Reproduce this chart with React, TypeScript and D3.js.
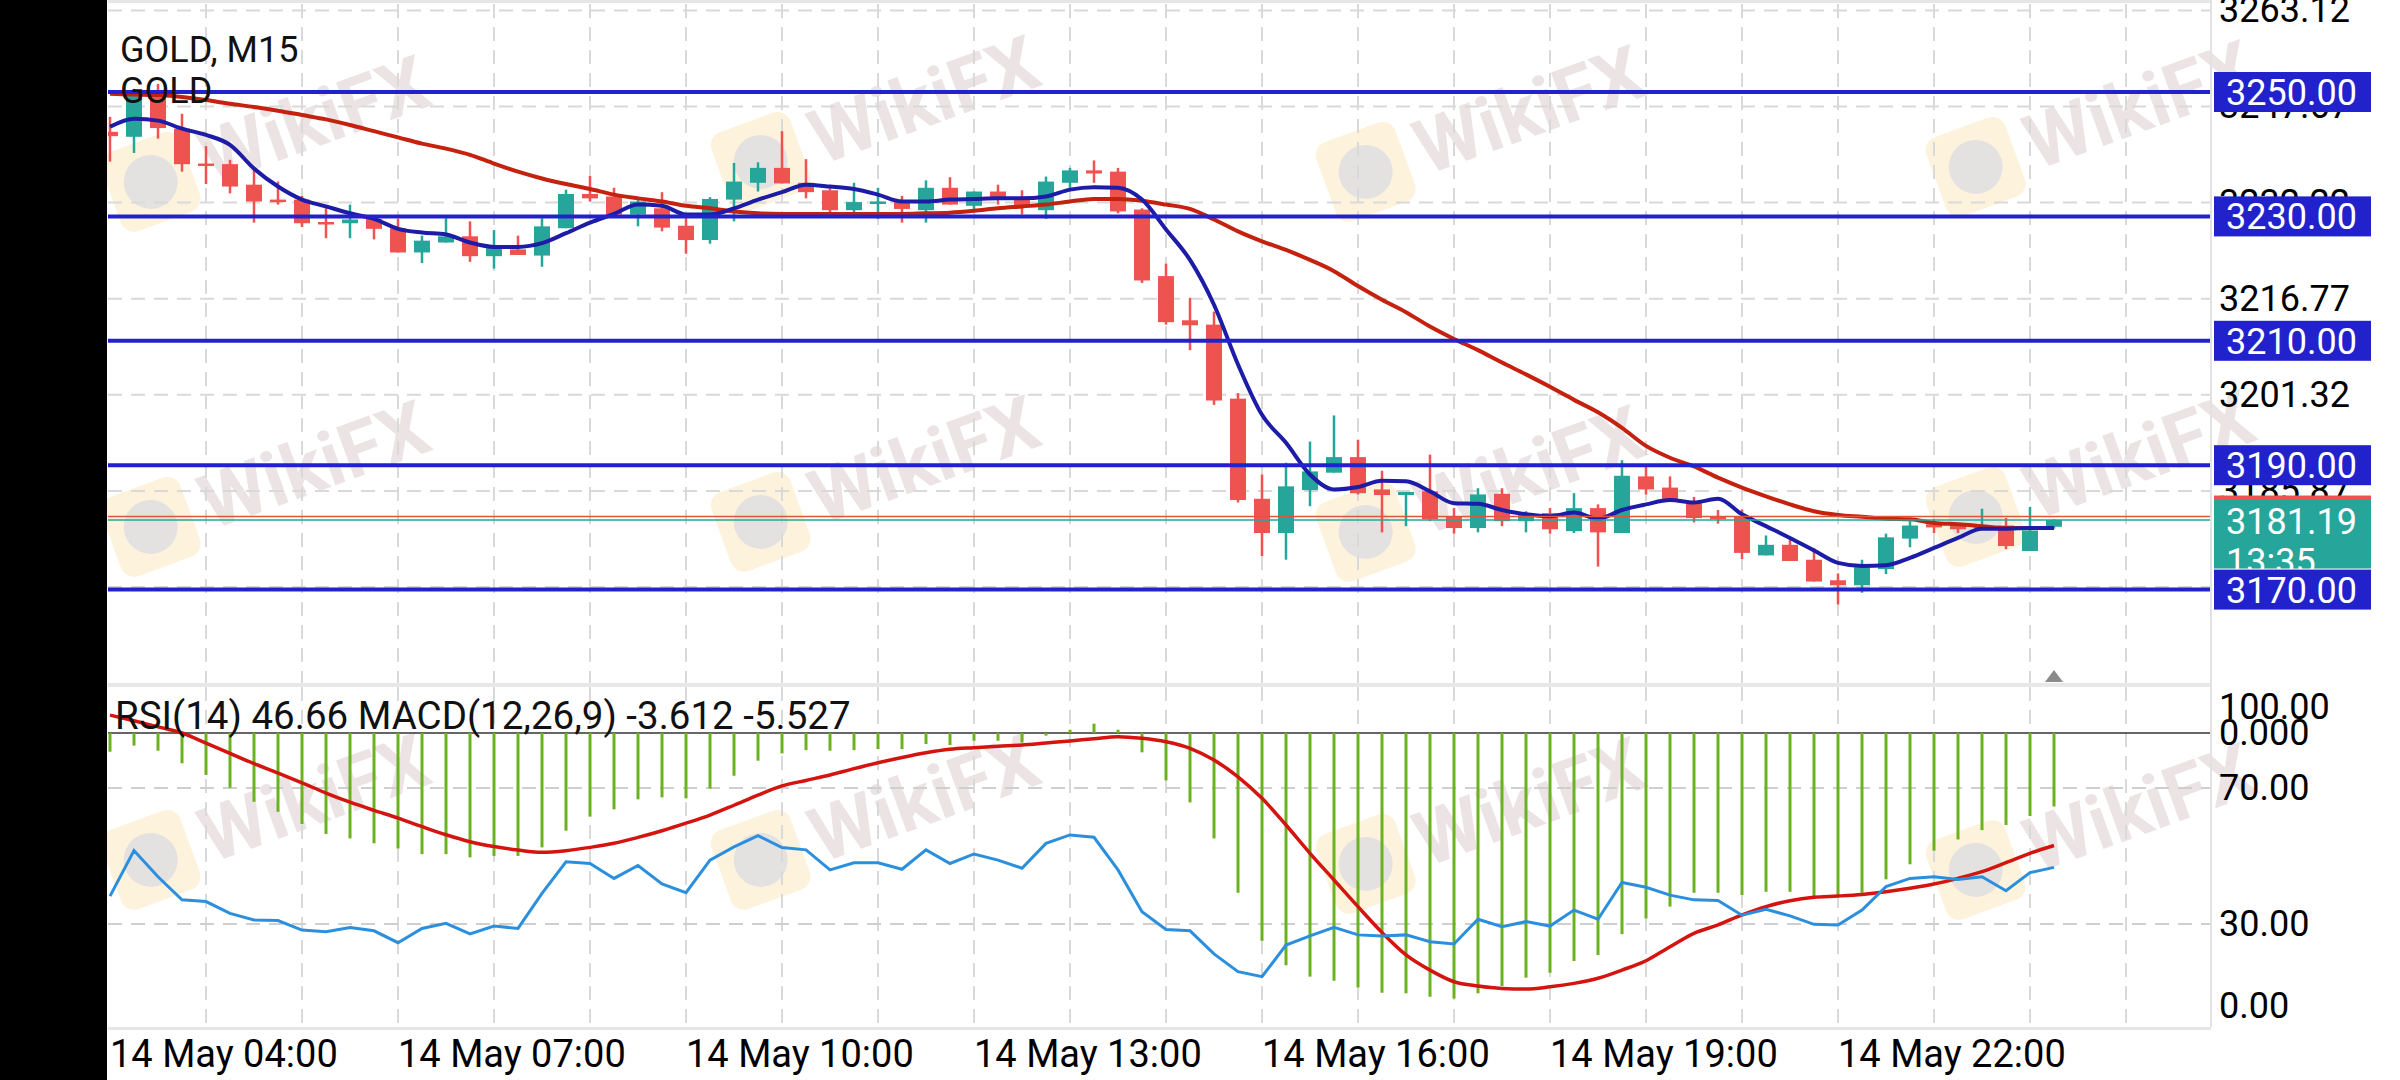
import React from 'react';
import * as d3 from 'd3';

// ---------- DATA ----------
const opens = [3243.6,3242.8,3249.5,3244.1,3238.5,3238.4,3235.1,3232.7,3232.7,3229.1,3228.9,3229.6,3228.1,3224.2,3225.8,3226.8,3223.6,3224.7,3223.7,3228.1,3233.6,3233.2,3230.3,3231.3,3228.5,3226.2,3232.7,3235.4,3237.8,3235.4,3234.2,3231.0,3232.1,3232.3,3231.0,3234.6,3231.7,3234.0,3232.8,3231.0,3235.4,3237.4,3237.2,3231.1,3220.4,3213.3,3212.6,3200.7,3184.6,3179.1,3186.0,3188.8,3191.3,3186.1,3185.2,3185.8,3181.8,3179.9,3185.4,3181.0,3182.3,3179.4,3183.1,3179.1,3188.2,3186.4,3183.9,3181.8,3181.8,3175.5,3177.2,3174.8,3171.5,3170.7,3173.3,3178.2,3180.5,3180.5,3179.8,3180.3,3176.2,3180.1];
const highs = [3246.0,3250.5,3251.3,3246.5,3241.3,3239.1,3237.7,3235.6,3233.3,3231.6,3231.9,3230.0,3229.6,3226.9,3229.7,3229.2,3227.8,3226.9,3229.7,3234.3,3236.5,3234.6,3232.9,3233.9,3230.3,3233.1,3238.6,3238.7,3243.7,3239.2,3234.6,3235.4,3234.6,3233.3,3235.8,3236.3,3234.0,3235.1,3234.2,3236.4,3237.8,3239.0,3237.8,3231.3,3222.4,3216.9,3214.7,3201.6,3188.5,3190.4,3193.8,3198.0,3194.1,3189.1,3185.7,3191.7,3183.1,3186.3,3186.3,3182.6,3183.1,3185.5,3183.7,3190.8,3189.8,3188.2,3184.9,3182.8,3182.9,3178.7,3178.3,3176.7,3172.6,3174.8,3179.0,3181.0,3181.3,3180.7,3183.0,3181.5,3183.3,3181.3];
const lows = [3238.8,3240.2,3242.5,3237.2,3235.2,3233.7,3229.0,3231.9,3228.3,3226.5,3226.5,3226.3,3224.2,3222.5,3225.8,3222.7,3221.6,3223.8,3221.9,3228.1,3232.4,3230.0,3228.4,3227.6,3224.0,3225.6,3229.2,3234.0,3235.3,3232.9,3230.3,3230.5,3229.6,3229.0,3229.0,3231.9,3230.8,3231.9,3230.3,3229.6,3234.6,3235.4,3230.5,3219.3,3212.6,3208.5,3199.7,3184.0,3175.4,3174.8,3183.4,3188.8,3185.3,3179.2,3180.2,3181.0,3179.0,3179.2,3180.2,3179.2,3179.0,3179.1,3173.7,3179.1,3185.3,3184.5,3180.8,3180.6,3174.9,3175.5,3174.6,3171.3,3167.6,3169.5,3172.5,3176.8,3179.1,3179.1,3179.6,3176.5,3176.2,3179.8];
const closes = [3242.9,3249.5,3244.2,3238.4,3238.1,3234.8,3232.4,3232.3,3228.9,3228.8,3229.5,3228.0,3224.2,3226.1,3226.8,3223.6,3224.9,3223.8,3228.4,3233.6,3232.9,3230.3,3232.4,3228.2,3226.2,3232.8,3235.6,3237.8,3235.3,3233.9,3231.0,3232.3,3232.4,3231.2,3234.6,3231.9,3234.0,3232.8,3231.5,3235.6,3237.4,3236.9,3230.8,3219.7,3213.0,3212.5,3200.4,3184.4,3179.1,3186.6,3189.0,3191.3,3185.5,3185.2,3185.7,3181.3,3179.9,3185.3,3181.0,3182.1,3179.7,3183.1,3179.2,3188.3,3186.1,3184.5,3181.5,3181.3,3175.9,3177.2,3174.6,3171.3,3170.7,3173.6,3178.4,3180.3,3180.0,3179.7,3180.3,3177.0,3179.5,3181.19];
const fastMA = [3244.4,3245.7,3245.4,3244.1,3243.1,3241.5,3237.7,3234.8,3232.7,3231.6,3230.5,3229.6,3228.0,3227.4,3227.1,3225.8,3225.1,3225.1,3225.7,3227.3,3229.0,3230.4,3231.9,3231.7,3230.3,3230.3,3231.3,3232.7,3233.9,3235.1,3234.8,3234.4,3233.5,3232.4,3232.4,3232.7,3232.8,3232.9,3232.9,3233.2,3234.3,3234.7,3234.6,3232.7,3227.9,3223.0,3215.8,3206.2,3198.1,3193.6,3188.5,3186.1,3186.5,3187.5,3187.4,3185.8,3183.9,3183.8,3182.8,3182.1,3181.8,3182.4,3181.4,3182.8,3183.7,3184.4,3184.0,3184.6,3182.1,3180.2,3178.3,3176.3,3174.3,3173.8,3173.9,3175.1,3176.7,3178.3,3179.8,3179.8,3179.9,3179.9];
const slowMA = [3249.7,3249.6,3249.5,3249.2,3248.7,3248.1,3247.6,3247.0,3246.3,3245.6,3244.7,3243.7,3242.7,3241.7,3240.9,3239.9,3238.5,3237.2,3236.1,3235.2,3234.4,3233.5,3232.9,3232.4,3231.7,3231.3,3230.8,3230.5,3230.4,3230.4,3230.4,3230.4,3230.4,3230.4,3230.5,3230.6,3230.9,3231.3,3231.6,3231.9,3232.4,3232.8,3232.8,3232.5,3231.9,3231.2,3229.5,3227.6,3226.0,3224.6,3223.0,3221.2,3218.8,3216.6,3214.6,3212.3,3210.3,3208.5,3206.5,3204.6,3202.6,3200.5,3198.5,3196.0,3193.1,3191.2,3189.8,3188.0,3186.4,3185.0,3183.7,3182.6,3182.0,3181.7,3181.4,3181.3,3180.7,3180.5,3180.2,3179.9,3179.9,3179.9];
const rsi = [38.2,51.6,43.9,37.1,36.6,33.1,31.2,31.0,28.2,27.7,29.0,28.0,24.5,28.7,30.2,27.1,29.4,28.7,39.0,48.3,47.8,43.4,47.2,41.8,39.2,48.8,52.7,56.0,52.5,51.8,45.9,48.0,48.0,46.1,51.8,47.8,50.6,48.8,46.4,53.7,56.2,55.5,45.9,33.6,28.4,28.0,21.2,16.0,14.5,23.8,26.5,29.0,26.8,26.5,26.8,24.8,24.1,31.4,29.2,30.7,29.4,34.1,31.4,42.2,40.8,38.5,37.1,36.9,32.6,34.3,32.4,29.9,29.7,34.1,41.0,43.4,43.9,43.1,43.9,39.8,45.1,46.66];
const macdHist = [-0.92,-0.62,-0.87,-1.49,-2.06,-2.69,-3.38,-3.87,-4.47,-4.96,-5.18,-5.42,-5.67,-5.95,-5.95,-6.11,-6.04,-6.04,-5.62,-4.80,-4.11,-3.75,-3.26,-3.16,-3.21,-2.73,-2.10,-1.36,-1.00,-0.84,-0.87,-0.84,-0.79,-0.79,-0.54,-0.59,-0.38,-0.38,-0.47,-0.13,0.16,0.46,0.16,-0.95,-2.33,-3.41,-5.18,-7.85,-10.21,-11.41,-11.97,-12.17,-12.50,-12.76,-12.79,-12.96,-13.04,-12.79,-12.43,-12.02,-11.78,-11.20,-10.91,-9.88,-9.11,-8.53,-7.85,-7.85,-7.96,-7.80,-7.80,-8.04,-8.04,-7.85,-7.19,-6.45,-5.78,-5.23,-4.77,-4.52,-4.08,-3.612];
const macdSignal = [0.88,0.60,0.30,0.0,-0.50,-1.00,-1.50,-1.97,-2.45,-2.95,-3.40,-3.80,-4.18,-4.60,-5.00,-5.34,-5.58,-5.75,-5.86,-5.78,-5.62,-5.42,-5.13,-4.80,-4.43,-4.03,-3.55,-3.05,-2.60,-2.33,-2.06,-1.75,-1.46,-1.20,-0.97,-0.80,-0.72,-0.65,-0.59,-0.49,-0.39,-0.28,-0.18,-0.26,-0.43,-0.75,-1.33,-2.15,-3.21,-4.52,-5.91,-7.22,-8.53,-9.80,-10.90,-11.65,-12.22,-12.43,-12.55,-12.58,-12.47,-12.30,-12.05,-11.65,-11.19,-10.50,-9.84,-9.43,-8.94,-8.53,-8.24,-8.07,-8.01,-7.93,-7.80,-7.63,-7.42,-7.14,-6.81,-6.37,-5.91,-5.527];

const levelPrices = [3250, 3230, 3210, 3190, 3170];
const priceGridTicks = [3263.12, 3247.67, 3232.22, 3216.77, 3201.32, 3185.87, 3170.42];
const timeLabelBars = [0, 12, 24, 36, 48, 60, 72];
const timeLabels = ['14 May 04:00', '14 May 07:00', '14 May 10:00', '14 May 13:00', '14 May 16:00', '14 May 19:00', '14 May 22:00'];
const rsiGridLevels = [70, 30];
const rsiAxisLabels = [100, 70, 30, 0];
const macdAxisLabel = '0.000';
const bidPrice = 3181.19;
const askPrice = 3181.75;
const countdown = '13:35';
const symbolTitle = 'GOLD, M15';
const symbolName = 'GOLD';
const indicatorTitle = 'RSI(14) 46.66 MACD(12,26,9) -3.612 -5.527';

// ---------- LAYOUT ----------
const W = 2400, H = 1080;
const L = 108, R = 2211;
const MAIN_TOP = 0, MAIN_BOT = 683;
const IND_TOP = 687, IND_BOT = 1027;
const FONT = 'Roboto, sans-serif';
const UP = '#26a69a', DOWN = '#ef5350', LEVEL = '#2222cc';

export default function App() {
  const n = closes.length;
  const idx = d3.range(n);
  const x = d3.scaleLinear().domain([0, 1]).range([110, 134]);
  const y = d3.scaleLinear().domain([3170, 3250]).range([589.6, 92]);
  const yr = d3.scaleLinear().domain([0, 100]).range([1026, 686]);
  const ym = d3.scaleLinear().domain([-13, 0]).range([997.6, 733]);

  const maLine = (arr: number[]) =>
    d3.line<number>().x((i) => x(i)).y((i) => y(arr[i])).curve(d3.curveMonotoneX)(idx) || '';
  const rsiPath = d3.line<number>().x((i) => x(i)).y((i) => yr(rsi[i]))(idx) || '';
  const sigPath = d3.line<number>().x((i) => x(i)).y((i) => ym(macdSignal[i])).curve(d3.curveMonotoneX)(idx) || '';

  const vGrid = d3.range(4, 88, 4).map((b) => x(b)).filter((v) => v < R);
  const dash = '14,9';
  const gridColor = '#d9d9d9';

  const watermarks: [number, number][] = [
    [150, 180], [760, 160], [1365, 170], [1975, 165],
    [150, 525], [760, 520], [1365, 530], [1975, 515],
    [150, 858], [760, 858], [1365, 862], [1975, 868],
  ];

  const clampInd = (v: number) => Math.max(IND_TOP + 20, Math.min(IND_BOT - 21, v));

  return (
    <svg width={W} height={H} style={{ position: 'absolute', left: 0, top: 0, background: '#fff' }} fontFamily={FONT}>
      <defs>
        <clipPath id="mainClip"><rect x={L} y={MAIN_TOP} width={R - L} height={MAIN_BOT - MAIN_TOP} /></clipPath>
        <clipPath id="indClip"><rect x={L} y={IND_TOP} width={R - L} height={IND_BOT - IND_TOP} /></clipPath>
      </defs>
      <rect x={0} y={0} width={W} height={H} fill="#fff" />
      <rect x={L} y={0} width={R - L} height={3} fill="#e6e6e6" />

      {/* watermarks (behind marks) */}
      <g pointerEvents="none">
        {watermarks.map(([cx, cy], k) => (
          <g key={'wm' + k} transform={`translate(${cx},${cy}) rotate(-20)`}>
            <rect x={-42} y={-40} width={84} height={84} rx={14} fill="#fdf3dc" />
            <circle cx={0} cy={2} r={27} fill="#e4e1e1" />
            <text x={56} y={26} fontSize={76} fontWeight={700} fill="#ece4e4">WikiFX</text>
          </g>
        ))}
      </g>

      {/* grids */}
      {vGrid.map((gx, k) => (
        <g key={'vg' + k}>
          <line x1={gx} x2={gx} y1={4} y2={MAIN_BOT} stroke={gridColor} strokeWidth={2} strokeDasharray={dash} />
          <line x1={gx} x2={gx} y1={IND_TOP} y2={IND_BOT} stroke={gridColor} strokeWidth={2} strokeDasharray={dash} />
        </g>
      ))}
      {priceGridTicks.map((p, k) => (
        <line key={'hg' + k} x1={L} x2={R} y1={y(p)} y2={y(p)} stroke={gridColor} strokeWidth={2} strokeDasharray={dash} />
      ))}
      {rsiGridLevels.map((v, k) => (
        <line key={'rg' + k} x1={L} x2={R} y1={yr(v)} y2={yr(v)} stroke="#cfcfcf" strokeWidth={2} strokeDasharray={dash} />
      ))}

      {/* main panel */}
      <g clipPath="url(#mainClip)">
        {idx.map((i) => {
          const up = closes[i] >= opens[i];
          const c = up ? UP : DOWN;
          const top = y(Math.max(opens[i], closes[i]));
          const bot = y(Math.min(opens[i], closes[i]));
          return (
            <g key={'c' + i}>
              <line x1={x(i)} x2={x(i)} y1={y(highs[i])} y2={y(lows[i])} stroke={c} strokeWidth={2.5} />
              <rect x={x(i) - 8} y={top} width={16} height={Math.max(2.5, bot - top)} fill={c} />
            </g>
          );
        })}
        <path d={maLine(slowMA)} fill="none" stroke="#c4210f" strokeWidth={4} />
        <path d={maLine(fastMA)} fill="none" stroke="#1c1ca6" strokeWidth={4} />
        {levelPrices.map((p, k) => (
          <line key={'lv' + k} x1={L} x2={R} y1={y(p)} y2={y(p)} stroke={LEVEL} strokeWidth={4} />
        ))}
        <line x1={L} x2={R} y1={y(askPrice)} y2={y(askPrice)} stroke="#e0553f" strokeWidth={1.5} />
        <line x1={L} x2={R} y1={y(bidPrice)} y2={y(bidPrice)} stroke="#26a69a" strokeWidth={1.5} />
        <polygon points={`${x(n - 1) - 9},${MAIN_BOT - 1} ${x(n - 1) + 9},${MAIN_BOT - 1} ${x(n - 1)},${MAIN_BOT - 13}`} fill="#8a8a8a" />
      </g>

      {/* separators */}
      <rect x={L} y={MAIN_BOT} width={R - L} height={4} fill="#e8e8e8" />
      <rect x={L} y={IND_BOT} width={R - L} height={3} fill="#e6e6e6" />

      {/* indicator panel */}
      <g clipPath="url(#indClip)">
        <line x1={L} x2={R} y1={ym(0)} y2={ym(0)} stroke="#333" strokeWidth={1.5} />
        {idx.map((i) => (
          <line key={'h' + i} x1={x(i)} x2={x(i)} y1={ym(0)} y2={ym(macdHist[i])} stroke="#6cb21e" strokeWidth={3} />
        ))}
        <path d={sigPath} fill="none" stroke="#d4140f" strokeWidth={3.5} />
        <path d={rsiPath} fill="none" stroke="#2b8fde" strokeWidth={3} />
      </g>

      {/* left black bar */}
      <rect x={0} y={0} width={L - 1} height={H} fill="#000" />

      {/* titles */}
      <text x={120} y={50} fontSize={36} dominantBaseline="central" fill="#111">{symbolTitle}</text>
      <text x={120} y={91} fontSize={36} dominantBaseline="central" fill="#111">{symbolName}</text>
      <text x={115} y={715} fontSize={38.5} dominantBaseline="central" fill="#111">{indicatorTitle}</text>

      {/* right axis */}
      <line x1={R} x2={R} y1={0} y2={IND_BOT} stroke="#e2e2e2" strokeWidth={2} />
      {priceGridTicks.map((p, k) => (
        <text key={'pt' + k} x={2219} y={y(p)} fontSize={36} dominantBaseline="central" fill="#000">{p.toFixed(2)}</text>
      ))}
      {/* bid label */}
      <rect x={2214} y={y(askPrice) - 20} width={157} height={72} fill={UP} />
      <rect x={2214} y={y(askPrice) - 21} width={157} height={4} fill={DOWN} />
      <text x={2226} y={y(bidPrice) + 2} fontSize={36} dominantBaseline="central" fill="#fff">{bidPrice.toFixed(2)}</text>
      <text x={2226} y={y(bidPrice) + 42} fontSize={36} dominantBaseline="central" fill="#fff">{countdown}</text>
      {levelPrices.map((p, k) => (
        <g key={'lb' + k}>
          <rect x={2214} y={y(p) - 20} width={157} height={40} fill={LEVEL} />
          <text x={2226} y={y(p) + 1} fontSize={36} dominantBaseline="central" fill="#fff">{p.toFixed(2)}</text>
        </g>
      ))}
      {rsiAxisLabels.map((v, k) => (
        <text key={'ra' + k} x={2219} y={clampInd(yr(v))} fontSize={36} dominantBaseline="central" fill="#000">{v.toFixed(2)}</text>
      ))}
      <text x={2219} y={ym(0)} fontSize={36} dominantBaseline="central" fill="#000">{macdAxisLabel}</text>

      {/* time axis */}
      {timeLabelBars.map((b, k) => (
        <text key={'tl' + k} x={x(b)} y={1054} fontSize={38} dominantBaseline="central" fill="#000">{timeLabels[k]}</text>
      ))}
    </svg>
  );
}
